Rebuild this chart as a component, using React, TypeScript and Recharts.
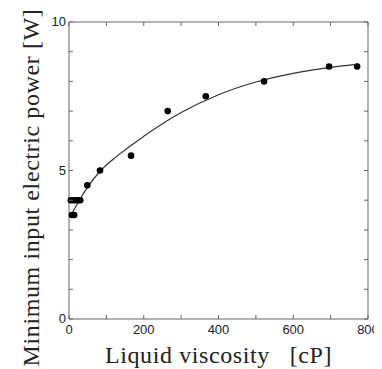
import React from 'react';
import {
  ComposedChart,
  Line,
  Scatter,
  XAxis,
  YAxis,
} from 'recharts';

// measured points
const viscosity = [5, 12, 18, 25, 30, 8, 14, 49, 83, 166, 264, 366, 522, 696, 771];
const power = [4, 4, 4, 4, 4, 3.5, 3.5, 4.5, 5, 5.5, 7, 7.5, 8, 8.5, 8.5];

// fitted curve
const fitViscosity = [8, 30, 50, 85, 130, 200, 300, 400, 500, 600, 700, 775];
const fitPower = [3.55, 4.05, 4.45, 5.0, 5.5, 6.15, 6.95, 7.55, 7.98, 8.27, 8.47, 8.58];

const xTicks = [0, 100, 200, 300, 400, 500, 600, 700, 800];
const yTicks = [0, 1, 2, 3, 4, 5, 6, 7, 8, 9, 10];
const xLabels = [0, 200, 400, 600, 800];
const yLabels = [0, 5, 10];

const points = viscosity.map((v, i) => ({ x: v, y: power[i] }));
const fit = fitViscosity.map((v, i) => ({ x: v, y: fitPower[i] }));

// layout
const chartW = 374;
const chartH = 361;
const yAxisW = 61;
const xAxisH = 50;
const marginTop = 14;
const marginRight = 14;
const plotW = chartW - yAxisW - marginRight;
const plotH = chartH - xAxisH - marginTop;

const axisColor = '#666';
const tickFont = '"Liberation Sans", Arial, sans-serif';
const titleFont = '"Liberation Serif", "Times New Roman", serif';

// bottom ticks also draw the matching top ticks and the right edge of the box
const BottomTick = (props: any) => {
  const { x, y, payload } = props;
  const top = y - plotH;
  return (
    <g>
      <line x1={x} y1={y} x2={x} y2={y - 4} stroke={axisColor} />
      <line x1={x} y1={top} x2={x} y2={top + 4} stroke={axisColor} />
      {payload.value === xTicks[xTicks.length - 1] && (
        <line x1={x} y1={y} x2={x} y2={top} stroke={axisColor} />
      )}
      {xLabels.includes(payload.value) && (
        <text x={x} y={y + 15} textAnchor="middle" fontSize={13} fill="#222" fontFamily={tickFont}>
          {payload.value}
        </text>
      )}
    </g>
  );
};

// left ticks also draw the matching right ticks and the top edge of the box
const LeftTick = (props: any) => {
  const { x, y, payload } = props;
  const right = x + plotW;
  return (
    <g>
      <line x1={x} y1={y} x2={x + 4} y2={y} stroke={axisColor} />
      <line x1={right} y1={y} x2={right - 4} y2={y} stroke={axisColor} />
      {payload.value === yTicks[yTicks.length - 1] && (
        <line x1={x} y1={y} x2={right} y2={y} stroke={axisColor} />
      )}
      {yLabels.includes(payload.value) && (
        <text x={x - 3} y={y + 4} textAnchor="end" fontSize={13} fill="#222" fontFamily={tickFont}>
          {payload.value}
        </text>
      )}
    </g>
  );
};

const YTitle = (props: any) => {
  const { viewBox } = props;
  const cx = viewBox.x + 31;
  const cy = viewBox.y + viewBox.height / 2 + 17;
  return (
    <text
      x={cx}
      y={cy}
      transform={`rotate(-90, ${cx}, ${cy})`}
      textAnchor="middle"
      fontSize={24}
      letterSpacing={0.6}
      fill="#222"
      fontFamily={titleFont}
    >
      Minimum input electric power [W]
    </text>
  );
};

const App: React.FC = () => {
  return (
    <div style={{ width: `${chartW}px`, height: `${chartH}px` }}>
      <ComposedChart
        width={chartW}
        height={chartH}
        margin={{ top: marginTop, right: marginRight, bottom: 0, left: 0 }}
      >
        <XAxis
          dataKey="x"
          type="number"
          domain={[0, 800]}
          ticks={xTicks}
          height={xAxisH}
          tickSize={0}
          tickMargin={0}
          tickLine={false}
          tick={<BottomTick />}
          stroke={axisColor}
          label={{
            value: 'Liquid viscosity\u00a0\u00a0\u00a0[cP]',
            position: 'insideBottom',
            offset: 6,
            fontSize: 24,
            letterSpacing: 0.6,
            fill: '#222',
            fontFamily: titleFont,
          }}
        />
        <YAxis
          type="number"
          domain={[0, 10]}
          ticks={yTicks}
          width={yAxisW}
          tickSize={0}
          tickMargin={0}
          tickLine={false}
          tick={<LeftTick />}
          stroke={axisColor}
          label={{ content: <YTitle /> }}
        />
        <Line
          data={fit}
          dataKey="y"
          type="monotone"
          stroke="#333"
          strokeWidth={1.2}
          dot={false}
          activeDot={false}
          isAnimationActive={false}
        />
        <Scatter
          data={points}
          dataKey="y"
          fill="#000"
          shape={(p: any) => <circle cx={p.cx} cy={p.cy} r={3.3} fill="#000" />}
          isAnimationActive={false}
        />
      </ComposedChart>
    </div>
  );
};

export default App;
